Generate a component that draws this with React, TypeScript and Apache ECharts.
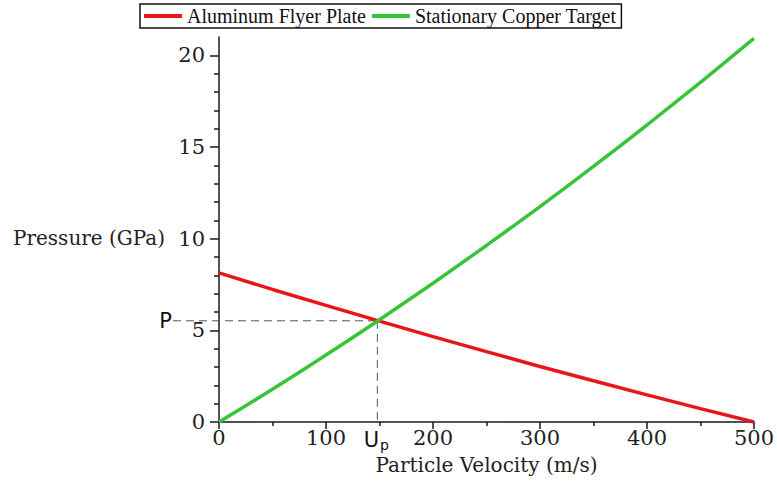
import React, { useEffect, useRef } from "react";
import * as echarts from "echarts";

const velocities = [0, 50, 100, 150, 200, 250, 300, 350, 400, 450, 500];
const aluminumPressure = [8.13, 7.23, 6.36, 5.5, 4.66, 3.84, 3.03, 2.25, 1.48, 0.73, 0];
const copperPressure = [0, 1.79, 3.65, 5.58, 7.57, 9.63, 11.75, 13.94, 16.2, 18.53, 20.92];
const yMajorTicks = [0, 5, 10, 15, 20];
const yMinorTicks = [1, 2, 3, 4, 6, 7, 8, 9, 11, 12, 13, 14, 16, 17, 18, 19];
const seriesNames = ["Aluminum Flyer Plate", "Stationary Copper Target"];
const intersectionUp = 148;
const intersectionP = 5.52;

export default function App() {
  const ref = useRef<HTMLDivElement>(null);
  useEffect(() => {
    if (!ref.current) return;
    const chart = echarts.init(ref.current, null, { renderer: "svg" });
    const serif = "DejaVu Serif";
    const axisColor = "#1a1a1a";
    chart.setOption({
      animation: false,
      backgroundColor: "#ffffff",
      grid: { left: 219, right: 23, top: 37, bottom: 65 },
      legend: {
        left: 140,
        top: 4,
        padding: [2, 5, 2, 4],
        itemGap: 6,
        itemWidth: 38,
        itemHeight: 4,
        icon: "rect",
        borderColor: "#111",
        borderWidth: 1.5,
        textStyle: { fontFamily: "Liberation Serif", fontSize: 20, color: "#111" },
        data: seriesNames,
      },
      xAxis: {
        type: "value",
        min: 0,
        max: 500,
        interval: 100,
        axisLine: { show: true, lineStyle: { color: axisColor, width: 1.5 } },
        axisTick: { show: true, length: 7, lineStyle: { color: axisColor, width: 1.5 } },
        minorTick: { show: true, splitNumber: 2, length: 4, lineStyle: { color: axisColor, width: 1.5 } },
        splitLine: { show: false },
        axisLabel: { fontFamily: serif, fontSize: 21, color: "#222", margin: 5 },
        name: "Particle Velocity (m/s)",
        nameLocation: "middle",
        nameGap: 33,
        nameTextStyle: { fontFamily: serif, fontSize: 20, color: "#222" },
      },
      yAxis: [
        {
          type: "value",
          min: 0,
          max: 21,
          axisLine: { show: true, lineStyle: { color: axisColor, width: 1.5 } },
          axisTick: { show: true, length: 9, customValues: yMajorTicks, lineStyle: { color: axisColor, width: 1.5 } },
          splitLine: { show: false },
          axisLabel: { fontFamily: serif, fontSize: 21, color: "#222", margin: 14, customValues: yMajorTicks },
        },
        {
          type: "value",
          min: 0,
          max: 21,
          position: "left",
          axisLine: { show: false },
          axisTick: { show: true, length: 5, customValues: yMinorTicks, lineStyle: { color: axisColor, width: 1.5 } },
          splitLine: { show: false },
          axisLabel: { show: false },
        },
      ],
      series: [
        {
          name: seriesNames[0],
          type: "line",
          data: velocities.map((v, i) => [v, aluminumPressure[i]]),
          showSymbol: false,
          symbol: "none",
          color: "#e8161b",
          lineStyle: { width: 3.5, color: "#e8161b" },
          clip: false,
        },
        {
          name: seriesNames[1],
          type: "line",
          smooth: 0.3,
          data: velocities.map((v, i) => [v, copperPressure[i]]),
          showSymbol: false,
          symbol: "none",
          color: "#38c43a",
          lineStyle: { width: 3.5, color: "#38c43a" },
          clip: false,
        },
      ],
    });

    const pt = chart.convertToPixel({ gridIndex: 0 }, [intersectionUp, intersectionP]) as number[];
    const origin = chart.convertToPixel({ gridIndex: 0 }, [0, 0]) as number[];
    const dash = { stroke: "#555", lineWidth: 1, lineDash: [8, 5] };
    chart.setOption({
      graphic: [
        {
          type: "line",
          silent: true,
          shape: { x1: 173, y1: pt[1], x2: pt[0], y2: pt[1] },
          style: dash,
          z: 1,
        },
        {
          type: "line",
          silent: true,
          shape: { x1: pt[0], y1: pt[1], x2: pt[0], y2: origin[1] },
          style: dash,
          z: 1,
        },
        {
          type: "text",
          x: 172,
          y: pt[1],
          style: {
            text: "P",
            fontFamily: "DejaVu Sans",
            fontSize: 21,
            fill: "#111",
            align: "right",
            verticalAlign: "middle",
          },
        },
        {
          type: "text",
          x: pt[0] - 1,
          y: origin[1] + 6,
          style: {
            text: "{a|U}{b|p}",
            align: "center",
            verticalAlign: "top",
            rich: {
              a: { fontFamily: "DejaVu Sans", fontSize: 21, fill: "#111" },
              b: { fontFamily: "DejaVu Sans", fontSize: 14, fill: "#111", padding: [10, 0, 0, 1] },
            },
          },
        },
        {
          type: "text",
          x: 13,
          y: 238,
          style: {
            text: "Pressure (GPa)",
            fontFamily: serif,
            fontSize: 20,
            fill: "#222",
            align: "left",
            verticalAlign: "middle",
          },
        },
      ],
    });
    return () => chart.dispose();
  }, []);
  return <div ref={ref} style={{ width: 777, height: 487, position: "absolute", left: 0, top: 0 }} />;
}
